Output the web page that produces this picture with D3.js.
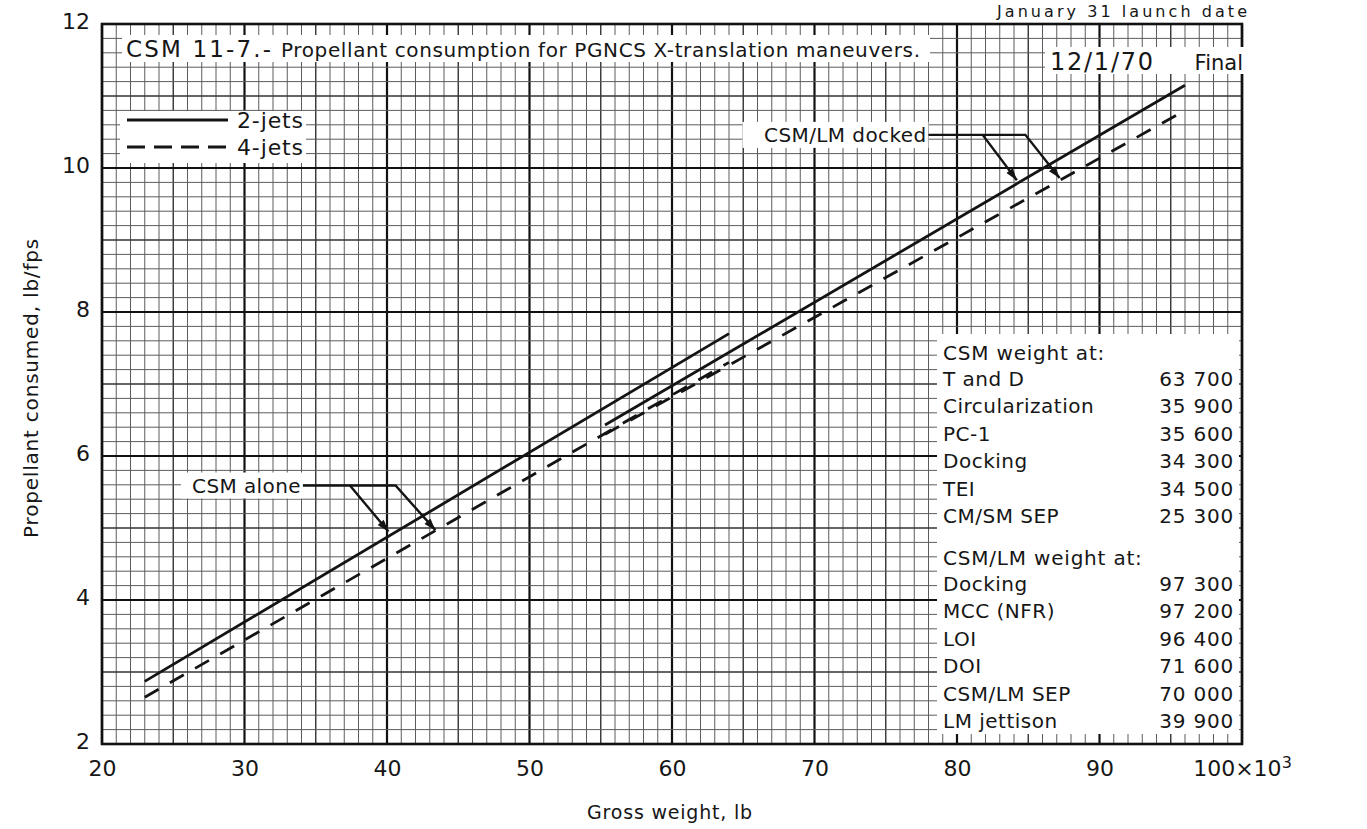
<!DOCTYPE html>
<html><head><meta charset="utf-8">
<script src="https://cdn.jsdelivr.net/npm/d3@7"></script>
<style>
body{margin:0;background:#fff}
svg{display:block}
text{font-family:"DejaVu Sans",sans-serif;fill:#161616}
</style>
</head><body>
<svg id="c" width="1367" height="829"></svg>
<script>
// ---------- data ----------
const xTicks = [20, 30, 40, 50, 60, 70, 80, 90, 100];
const yTicks = [2, 4, 6, 8, 10, 12];
const csmAloneX = [23, 64];
const csmAlone2jets = [2.87, 7.70];
const csmAlone4jets = [2.65, 7.30];
const dockedX = [55.3, 96];
const docked2jets = [6.43, 11.15];
const docked4jets = [6.30, 10.80];
const csmLabels = ["T and D", "Circularization", "PC-1", "Docking", "TEI", "CM/SM SEP"];
const csmWeights = [63700, 35900, 35600, 34300, 34500, 25300];
const lmLabels = ["Docking", "MCC (NFR)", "LOI", "DOI", "CSM/LM SEP", "LM jettison"];
const lmWeights = [97300, 97200, 96400, 71600, 70000, 39900];
// callouts (data units): label start, two branch points, two arrow tips
const aloneCallout = {label: "CSM alone", y: 5.59, xs: [34.1, 37.4, 40.6], tips: [[40.1, 4.95], [43.4, 4.97]]};
const dockedCallout = {label: "CSM/LM docked", y: 10.46, xs: [78.0, 81.8, 84.8], tips: [[84.2, 9.83], [87.2, 9.86]]};

// ---------- layout ----------
const M = {l: 102, r: 1242, t: 24, b: 744};
const x = d3.scaleLinear().domain([20, 100]).range([M.l, M.r]);
const y = d3.scaleLinear().domain([2, 12]).range([M.b, M.t]);
const svg = d3.select("#c");
const ink = "#141414";

svg.append("defs").append("marker")
  .attr("id", "arr").attr("viewBox", "0 0 12 8").attr("refX", 12).attr("refY", 4)
  .attr("markerWidth", 13).attr("markerHeight", 8).attr("markerUnits", "userSpaceOnUse")
  .attr("orient", "auto")
  .append("path").attr("d", "M0,0 L12,4 L0,8 z").attr("fill", ink);

// ---------- grid ----------
const grid = svg.append("g");
d3.range(0, 81).forEach(i => {
  const v = 20 + i;
  const major = i % 10 === 0, med = i % 5 === 0;
  grid.append("line").attr("x1", x(v)).attr("x2", x(v)).attr("y1", M.t).attr("y2", M.b)
    .attr("stroke", major ? "#111" : med ? "#333" : "#5c5c5c")
    .attr("stroke-width", major ? 2.2 : med ? 1.4 : 1);
});
d3.range(0, 51).forEach(i => {
  const v = 2 + i * 0.2;
  const major = i % 10 === 0, med = i % 5 === 0;
  grid.append("line").attr("y1", y(v)).attr("y2", y(v)).attr("x1", M.l).attr("x2", M.r)
    .attr("stroke", major ? "#111" : med ? "#333" : "#5c5c5c")
    .attr("stroke-width", major ? 2.2 : med ? 1.4 : 1);
});
svg.append("rect").attr("x", M.l).attr("y", M.t).attr("width", M.r - M.l).attr("height", M.b - M.t)
  .attr("fill", "none").attr("stroke", "#111").attr("stroke-width", 2.6);

// ---------- axes ----------
const xa = svg.append("g").attr("transform", `translate(0,${M.b})`)
  .call(d3.axisBottom(x).tickValues(xTicks).tickSize(0).tickPadding(16).tickFormat(d => d));
xa.select(".domain").remove();
xa.selectAll("text").attr("font-size", 22).attr("font-family", "DejaVu Sans").attr("fill", "#161616");
xa.selectAll(".tick text").filter(d => d === 100).each(function () {
  const t = d3.select(this);
  t.text("100");
  t.append("tspan").text("×10");
  t.append("tspan").attr("dy", "-0.5em").attr("font-size", 16).text("3");
});

const ya = svg.append("g").attr("transform", `translate(${M.l},0)`)
  .call(d3.axisLeft(y).tickValues(yTicks).tickSize(0).tickPadding(12).tickFormat(d => d));
ya.select(".domain").remove();
ya.selectAll("text").attr("font-size", 22).attr("font-family", "DejaVu Sans").attr("fill", "#161616").attr("dy", "0.22em");

svg.append("text").attr("x", 670).attr("y", 819).attr("text-anchor", "middle")
  .attr("font-size", 19).attr("letter-spacing", 0.8).text("Gross weight, lb");
svg.append("text").attr("transform", "translate(38,388) rotate(-90)").attr("text-anchor", "middle")
  .attr("font-size", 20).attr("letter-spacing", 0.8).text("Propellant consumed, lb/fps");

// ---------- top texts ----------
svg.append("text").attr("x", 997).attr("y", 17).attr("font-size", 16)
  .attr("textLength", 250).attr("lengthAdjust", "spacing").text("January 31 launch date");

svg.append("rect").attr("x", 122).attr("y", 35).attr("width", 808).attr("height", 27).attr("fill", "#fff");
svg.append("text").attr("x", 126).attr("y", 57).attr("font-size", 23)
  .attr("textLength", 145).attr("lengthAdjust", "spacing").text("CSM 11-7.-");
svg.append("text").attr("x", 281).attr("y", 57).attr("font-size", 20)
  .attr("textLength", 639).attr("lengthAdjust", "spacing")
  .text("Propellant consumption for PGNCS X-translation maneuvers.");

svg.append("rect").attr("x", 1045).attr("y", 47).attr("width", 201).attr("height", 27).attr("fill", "#fff");
svg.append("text").attr("x", 1050).attr("y", 70).attr("font-size", 24)
  .attr("textLength", 103).attr("lengthAdjust", "spacing").text("12/1/70");
svg.append("text").attr("x", 1243).attr("y", 70).attr("font-size", 21).attr("text-anchor", "end").text("Final");

// ---------- legend ----------
svg.append("rect").attr("x", 120).attr("y", 111).attr("width", 186).attr("height", 52).attr("fill", "#fff");
svg.append("line").attr("x1", 127).attr("x2", 228).attr("y1", 120).attr("y2", 120)
  .attr("stroke", ink).attr("stroke-width", 2.8);
svg.append("line").attr("x1", 127).attr("x2", 228).attr("y1", 147).attr("y2", 147)
  .attr("stroke", ink).attr("stroke-width", 2.8).attr("stroke-dasharray", "18,9");
svg.append("text").attr("x", 237).attr("y", 128).attr("font-size", 22)
  .attr("textLength", 66).attr("lengthAdjust", "spacing").text("2-jets");
svg.append("text").attr("x", 237).attr("y", 155).attr("font-size", 22)
  .attr("textLength", 66).attr("lengthAdjust", "spacing").text("4-jets");

// ---------- curves ----------
const line = d3.line().x(d => x(d[0])).y(d => y(d[1]));
const series = [
  {xs: csmAloneX, ys: csmAlone2jets, dash: null},
  {xs: csmAloneX, ys: csmAlone4jets, dash: "16,13"},
  {xs: dockedX, ys: docked2jets, dash: null},
  {xs: dockedX, ys: docked4jets, dash: "16,13"}
];
series.forEach(s => {
  svg.append("path").datum(s.xs.map((v, i) => [v, s.ys[i]]))
    .attr("d", line).attr("fill", "none").attr("stroke", ink).attr("stroke-width", 2.8)
    .attr("stroke-dasharray", s.dash);
});

// ---------- callouts ----------
function callout(c, boxW) {
  const yy = y(c.y);
  svg.append("rect").attr("x", x(c.xs[0]) - boxW - 4).attr("y", yy - 13).attr("width", boxW + 4).attr("height", 26)
    .attr("fill", "#fff");
  svg.append("text").attr("x", x(c.xs[0]) - 2).attr("y", yy + 7).attr("text-anchor", "end")
    .attr("font-size", 20).attr("letter-spacing", 0.4).text(c.label);
  svg.append("path").attr("d", `M${x(c.xs[0])},${yy}H${x(c.xs[2])}L${x(c.tips[1][0])},${y(c.tips[1][1])}`)
    .attr("fill", "none").attr("stroke", ink).attr("stroke-width", 2.4).attr("marker-end", "url(#arr)");
  svg.append("path").attr("d", `M${x(c.xs[1])},${yy}L${x(c.tips[0][0])},${y(c.tips[0][1])}`)
    .attr("fill", "none").attr("stroke", ink).attr("stroke-width", 2.4).attr("marker-end", "url(#arr)");
}
callout(aloneCallout, 118);
callout(dockedCallout, 182);

// ---------- weights table ----------
const fmt = d3.formatLocale({decimal: ".", thousands: " ", grouping: [3], currency: ["", ""]}).format(",");
const tb = svg.append("g");
tb.append("rect").attr("x", 937).attr("y", 334).attr("width", 302).attr("height", 400).attr("fill", "#fff");
const tx = 943, vx = 1234, rowH = 27.4;
tb.append("text").attr("x", tx).attr("y", 360).attr("font-size", 20).attr("letter-spacing", 0.8).text("CSM weight at:");
csmLabels.forEach((l, i) => {
  const by = 386 + i * rowH;
  tb.append("text").attr("x", tx).attr("y", by).attr("font-size", 20).attr("letter-spacing", 0.5).text(l);
  tb.append("text").attr("x", vx).attr("y", by).attr("font-size", 20).attr("letter-spacing", 0.8)
    .attr("text-anchor", "end").text(fmt(csmWeights[i]));
});
tb.append("text").attr("x", tx).attr("y", 565).attr("font-size", 20).attr("letter-spacing", 0.8).text("CSM/LM weight at:");
lmLabels.forEach((l, i) => {
  const by = 591 + i * rowH;
  tb.append("text").attr("x", tx).attr("y", by).attr("font-size", 20).attr("letter-spacing", 0.5).text(l);
  tb.append("text").attr("x", vx).attr("y", by).attr("font-size", 20).attr("letter-spacing", 0.8)
    .attr("text-anchor", "end").text(fmt(lmWeights[i]));
});
</script>
</body></html>
